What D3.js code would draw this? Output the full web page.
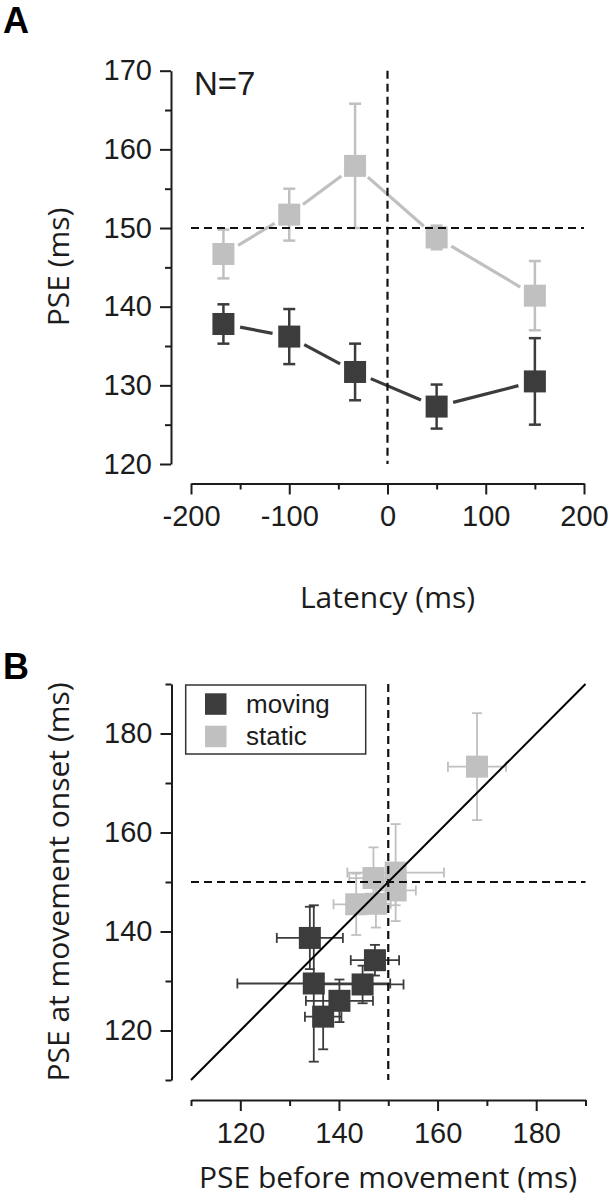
<!DOCTYPE html>
<html><head><meta charset="utf-8">
<script src="https://cdn.jsdelivr.net/npm/d3@7"></script>
<style>body{margin:0;background:#fff} svg{display:block}</style>
</head><body>
<script>
// ---------- Panel A data ----------
const latency = [-167, -100, -33, 50, 150];
const movingPSE = [137.8, 136.2, 131.7, 127.3, 130.5];
const movingErr = [2.5, 3.5, 3.6, 2.8, 5.5];
const staticPSE = [146.7, 151.7, 157.9, 148.8, 141.4];
const staticErr = [3.1, 3.3, 7.9, 1.5, 4.4];
const aXTicks = [-200, -100, 0, 100, 200];
const aXMinor = [-150, -50, 50, 150];
const aYTicks = [120, 130, 140, 150, 160, 170];
const aYMinor = [125, 135, 145, 155, 165];

// ---------- Panel B data ----------
const movBefore    = [134.1, 134.9, 140.1, 136.8, 144.8, 147.3];
const movBeforeErr = [6.7, 15.5, 6.8, 3.7, 8.3, 4.9];
const movOnset     = [138.7, 129.5, 126.0, 122.8, 129.3, 134.2];
const movOnsetErr  = [6.3, 15.8, 4.3, 6.6, 3.8, 3.1];
const staBefore    = [168.0, 147.0, 151.5, 151.5, 143.5, 147.5];
const staBeforeErr = [5.9, 4.9, 9.8, 4.1, 4.6, 3.0];
const staOnset     = [173.3, 150.8, 151.9, 148.3, 145.5, 145.6];
const staOnsetErr  = [10.8, 6.2, 9.8, 3.0, 6.2, 4.8];
const bTicks = [120, 140, 160, 180];
const bMinor = [110, 130, 150, 170, 190];
const legendLabels = ["moving", "static"];

const W = 610, H = 1199;
const DARK = "#3c3c3c", LIGHT = "#c0c0c0", INK = "#1c1c1c";
const tickFont = "'Liberation Sans', Arial, Helvetica, sans-serif";
const titleFont = "'Open Sans', 'Noto Sans', sans-serif";

const svg = d3.select("body").append("svg").attr("width", W).attr("height", H);

function styleAxis(g) {
  g.selectAll("path.domain").attr("stroke", INK).attr("stroke-width", 2);
  g.selectAll(".tick line").attr("stroke", INK).attr("stroke-width", 2);
  g.selectAll(".tick text").attr("fill", INK).style("font-family", tickFont).style("font-size", "29px");
}
function drawAxes(xs, ys, xAxisY, yAxisX, xT, xM, yT, yM) {
  const gx = svg.append("g").attr("transform", `translate(0,${xAxisY})`)
    .call(d3.axisBottom(xs).tickValues(xT).tickSize(11).tickPadding(11).tickSizeOuter(0).tickFormat(d => String(d)));
  styleAxis(gx);
  const gxm = svg.append("g").attr("transform", `translate(0,${xAxisY})`)
    .call(d3.axisBottom(xs).tickValues(xM).tickSize(6).tickFormat(""));
  gxm.select("path.domain").remove(); styleAxis(gxm);
  const gy = svg.append("g").attr("transform", `translate(${yAxisX},0)`)
    .call(d3.axisLeft(ys).tickValues(yT).tickSize(11).tickPadding(8).tickSizeOuter(0).tickFormat(d => String(d)));
  styleAxis(gy);
  const gym = svg.append("g").attr("transform", `translate(${yAxisX},0)`)
    .call(d3.axisLeft(ys).tickValues(yM).tickSize(6).tickFormat(""));
  gym.select("path.domain").remove(); styleAxis(gym);
}

// ================= Panel A =================
const xA = d3.scaleLinear().domain([-200, 200]).range([191, 584]);
const yA = d3.scaleLinear().domain([120, 170]).range([464, 70.7]);
drawAxes(xA, yA, 483.5, 171, aXTicks, aXMinor, aYTicks, aYMinor);

function seriesA(vals, errs, color) {
  const pts = latency.map((x, i) => ({ x: xA(x), y: yA(vals[i]), lo: yA(vals[i] - errs[i]), hi: yA(vals[i] + errs[i]) }));
  const segs = d3.pairs(pts).map(([a, b]) => {
    const dx = b.x - a.x, dy = b.y - a.y, L = Math.hypot(dx, dy), g = 17;
    return { x1: a.x + dx / L * g, y1: a.y + dy / L * g, x2: b.x - dx / L * g, y2: b.y - dy / L * g };
  });
  const g = svg.append("g");
  g.selectAll("line.seg").data(segs).join("line").attr("class", "seg")
    .attr("x1", d => d.x1).attr("y1", d => d.y1).attr("x2", d => d.x2).attr("y2", d => d.y2)
    .attr("stroke", color).attr("stroke-width", 3.2);
  const eb = g.selectAll("g.eb").data(pts).join("g").attr("class", "eb")
    .attr("stroke", color).attr("stroke-width", 2.5);
  eb.append("line").attr("x1", d => d.x).attr("x2", d => d.x).attr("y1", d => d.lo).attr("y2", d => d.hi);
  eb.append("line").attr("x1", d => d.x - 6).attr("x2", d => d.x + 6).attr("y1", d => d.lo).attr("y2", d => d.lo);
  eb.append("line").attr("x1", d => d.x - 6).attr("x2", d => d.x + 6).attr("y1", d => d.hi).attr("y2", d => d.hi);
  g.selectAll("rect").data(pts).join("rect")
    .attr("x", d => d.x - 11).attr("y", d => d.y - 11).attr("width", 22).attr("height", 22).attr("fill", color);
}
seriesA(staticPSE, staticErr, LIGHT);
seriesA(movingPSE, movingErr, DARK);

svg.append("line").attr("x1", xA(-200)).attr("x2", xA(200)).attr("y1", yA(150)).attr("y2", yA(150))
  .attr("stroke", "#111").attr("stroke-width", 2.2).attr("stroke-dasharray", "8,5");
svg.append("line").attr("x1", xA(0)).attr("x2", xA(0)).attr("y1", yA(170)).attr("y2", yA(120))
  .attr("stroke", "#111").attr("stroke-width", 2.2).attr("stroke-dasharray", "8,5");

svg.append("text").attr("x", 194).attr("y", 95).text("N=7")
  .style("font-family", tickFont).style("font-size", "33px").attr("fill", INK);
svg.append("text").attr("x", 387.5).attr("y", 608).attr("text-anchor", "middle").text("Latency (ms)")
  .style("font-family", titleFont).style("font-size", "30px").attr("fill", INK);
svg.append("text").attr("transform", "translate(69,267) rotate(-90)").attr("text-anchor", "middle").text("PSE (ms)")
  .style("font-family", titleFont).style("font-size", "30px").attr("fill", INK);
svg.append("text").attr("x", 3).attr("y", 33).text("A")
  .style("font-family", tickFont).style("font-size", "36px").style("font-weight", "bold").attr("fill", "#000");

// ================= Panel B =================
const xB = d3.scaleLinear().domain([110, 190]).range([191, 585.5]);
const yB = d3.scaleLinear().domain([110, 190]).range([1080, 684]);
drawAxes(xB, yB, 1100, 171.5, bTicks, bMinor, bTicks, bMinor);

function seriesB(bx, bxe, oy, oye, color) {
  const pts = bx.map((x, i) => ({
    x: xB(x), y: yB(oy[i]),
    xl: xB(x - bxe[i]), xh: xB(x + bxe[i]),
    yl: yB(oy[i] - oye[i]), yh: yB(oy[i] + oye[i])
  }));
  const g = svg.append("g");
  const eb = g.selectAll("g.eb").data(pts).join("g").attr("class", "eb")
    .attr("stroke", color).attr("stroke-width", 1.8);
  eb.append("line").attr("x1", d => d.x).attr("x2", d => d.x).attr("y1", d => d.yl).attr("y2", d => d.yh);
  eb.append("line").attr("x1", d => d.xl).attr("x2", d => d.xh).attr("y1", d => d.y).attr("y2", d => d.y);
  eb.append("line").attr("x1", d => d.x - 5).attr("x2", d => d.x + 5).attr("y1", d => d.yl).attr("y2", d => d.yl);
  eb.append("line").attr("x1", d => d.x - 5).attr("x2", d => d.x + 5).attr("y1", d => d.yh).attr("y2", d => d.yh);
  eb.append("line").attr("x1", d => d.xl).attr("x2", d => d.xl).attr("y1", d => d.y - 5).attr("y2", d => d.y + 5);
  eb.append("line").attr("x1", d => d.xh).attr("x2", d => d.xh).attr("y1", d => d.y - 5).attr("y2", d => d.y + 5);
  return { g, pts, color };
}
const sS = seriesB(staBefore, staBeforeErr, staOnset, staOnsetErr, LIGHT);
const sM = seriesB(movBefore, movBeforeErr, movOnset, movOnsetErr, DARK);
[sS, sM].forEach(s => {
  s.g.selectAll("rect").data(s.pts).join("rect")
    .attr("x", d => d.x - 11).attr("y", d => d.y - 11).attr("width", 22).attr("height", 22).attr("fill", s.color);
});

svg.append("line").attr("x1", xB(110)).attr("y1", yB(110)).attr("x2", xB(190)).attr("y2", yB(190))
  .attr("stroke", "#000").attr("stroke-width", 2);
svg.append("line").attr("x1", xB(110)).attr("x2", xB(190)).attr("y1", yB(150)).attr("y2", yB(150))
  .attr("stroke", "#111").attr("stroke-width", 2.2).attr("stroke-dasharray", "8,5");
svg.append("line").attr("x1", xB(150)).attr("x2", xB(150)).attr("y1", yB(190)).attr("y2", yB(110))
  .attr("stroke", "#111").attr("stroke-width", 2.2).attr("stroke-dasharray", "8,5");

// legend
const lg = svg.append("g");
lg.append("rect").attr("x", 185.7).attr("y", 685).attr("width", 180).attr("height", 69)
  .attr("fill", "#fff").attr("stroke", "#333").attr("stroke-width", 1.5);
const legColors = [DARK, LIGHT];
lg.selectAll("rect.sw").data(legendLabels).join("rect").attr("class", "sw")
  .attr("x", 205).attr("y", (d, i) => 693.3 + i * 32.4).attr("width", 21.5).attr("height", 21.5)
  .attr("fill", (d, i) => legColors[i]);
lg.selectAll("text").data(legendLabels).join("text")
  .attr("x", 246).attr("y", (d, i) => 712.7 + i * 32.4).text(d => d)
  .style("font-family", tickFont).style("font-size", "26px").attr("fill", INK);

svg.append("text").attr("x", 388).attr("y", 1188).attr("text-anchor", "middle").text("PSE before movement (ms)")
  .style("font-family", titleFont).style("font-size", "30px").attr("fill", INK);
svg.append("text").attr("transform", "translate(69,882) rotate(-90)").attr("text-anchor", "middle").text("PSE at movement onset (ms)")
  .style("font-family", titleFont).style("font-size", "30px").attr("fill", INK);
svg.append("text").attr("x", 3).attr("y", 679).text("B")
  .style("font-family", tickFont).style("font-size", "36px").style("font-weight", "bold").attr("fill", "#000");
</script>
</body></html>
